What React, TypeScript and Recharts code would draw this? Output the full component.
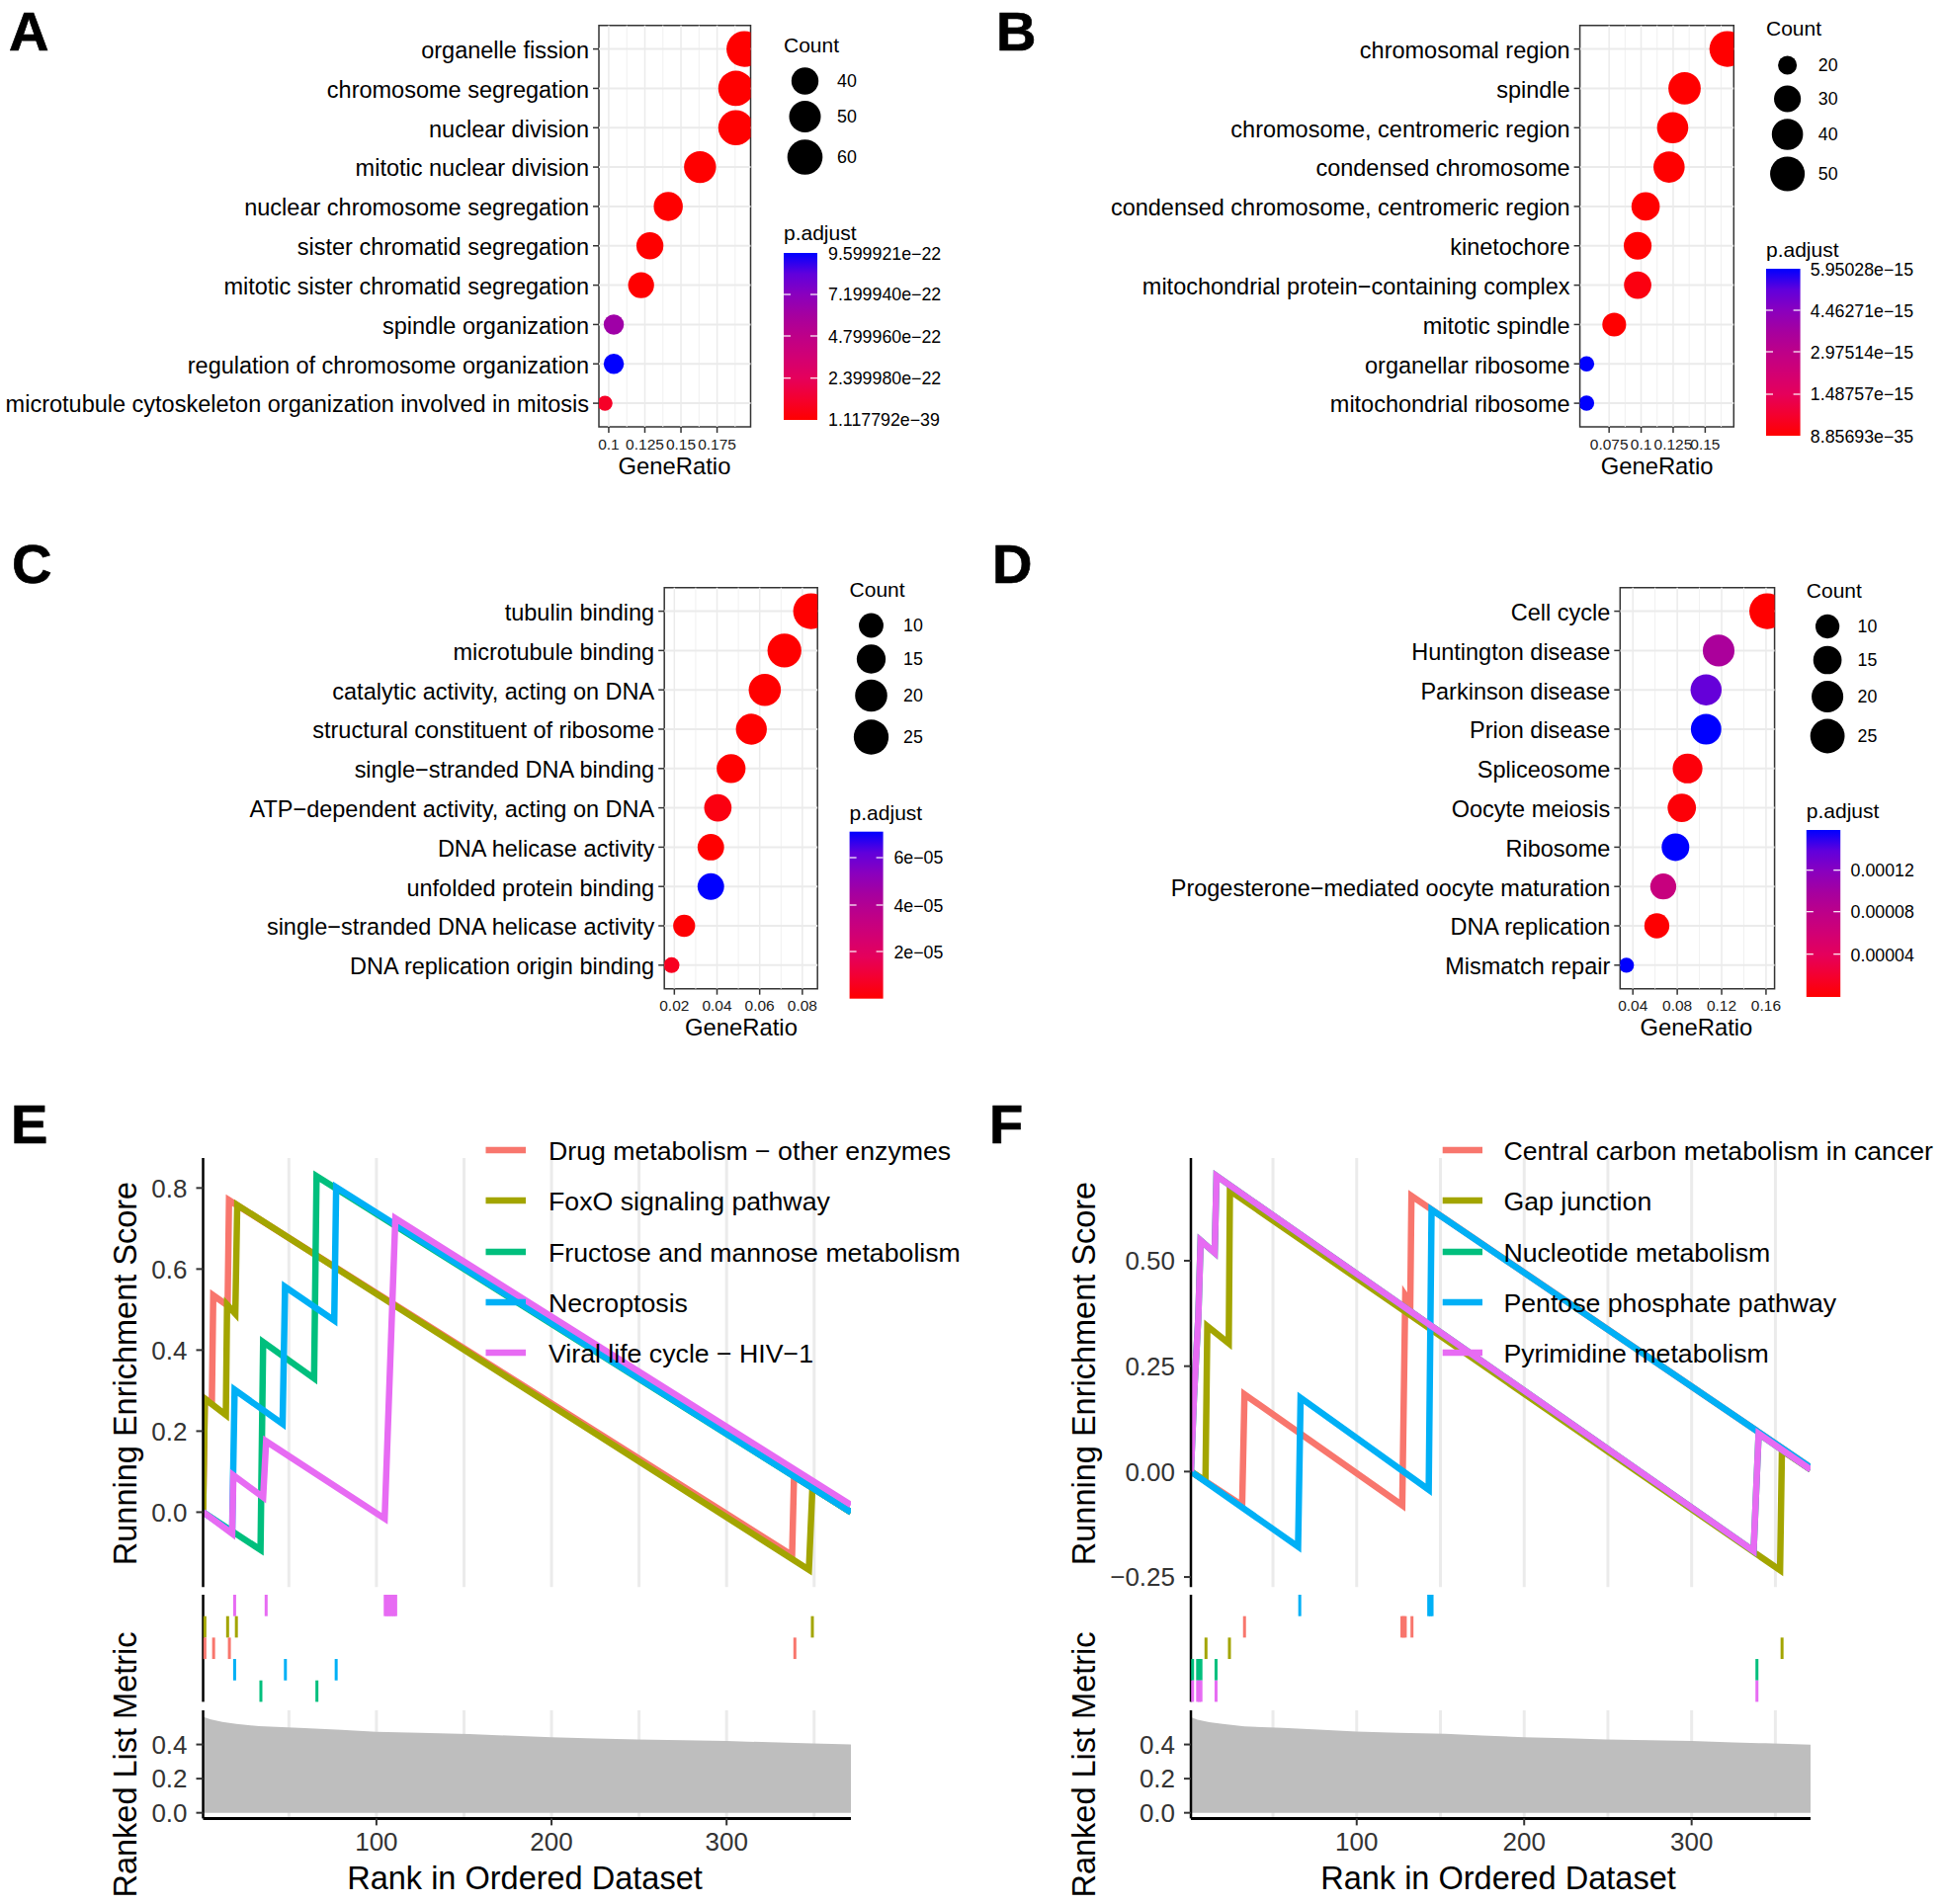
// Six panel enrichment figure: four dot plots (A-D) and two GSEA plots (E, F)
import React from 'react';
import {
  ScatterChart, Scatter, LineChart, Line, AreaChart, Area, CartesianGrid,
  XAxis, YAxis, ReferenceLine, ReferenceArea,
} from 'recharts';

const FONT = "'Liberation Sans', Arial, sans-serif";

// ---- panel A
const termsA = ['organelle fission', 'chromosome segregation', 'nuclear division', 'mitotic nuclear division', 'nuclear chromosome segregation', 'sister chromatid segregation', 'mitotic sister chromatid segregation', 'spindle organization', 'regulation of chromosome organization', 'microtubule cytoskeleton organization involved in mitosis'];
const ratioA = [0.1939, 0.188, 0.188, 0.1632, 0.1412, 0.1285, 0.1224, 0.1035, 0.1035, 0.0974];
const countA = [62, 60, 60, 51, 44, 40, 38, 31, 31, 29];
const padjA = [0, 0, 0, 0, 0, 0, 0, 6.3e-22, 9.6e-22, 1.0e-22];
const ticksA = [0.1, 0.125, 0.15, 0.175];
const minorA = [0.1125, 0.1375, 0.1625, 0.1875];
const countKeysA = [40, 50, 60];
const barLabelsA = ['9.599921e\u221222', '7.199940e\u221222', '4.799960e\u221222', '2.399980e\u221222', '1.117792e\u221239'];

// ---- panel B
const termsB = ['chromosomal region', 'spindle', 'chromosome, centromeric region', 'condensed chromosome', 'condensed chromosome, centromeric region', 'kinetochore', 'mitochondrial protein\u2212containing complex', 'mitotic spindle', 'organellar ribosome', 'mitochondrial ribosome'];
const ratioB = [0.1673, 0.1339, 0.1246, 0.1218, 0.1035, 0.0973, 0.0973, 0.079, 0.0574, 0.0574];
const countB = [54, 43, 40, 40, 33, 32, 31, 25, 19, 19];
const padjB = [0, 0, 0, 0, 0, 0, 0.25e-15, 0, 5.95e-15, 5.95e-15];
const ticksB = [0.075, 0.1, 0.125, 0.15];
const minorB = [0.0875, 0.1125, 0.1375, 0.1625];
const countKeysB = [20, 30, 40, 50];
const barLabelsB = ['5.95028e\u221215', '4.46271e\u221215', '2.97514e\u221215', '1.48757e\u221215', '8.85693e\u221235'];

// ---- panel C
const termsC = ['tubulin binding', 'microtubule binding', 'catalytic activity, acting on DNA', 'structural constituent of ribosome', 'single\u2212stranded DNA binding', 'ATP\u2212dependent activity, acting on DNA', 'DNA helicase activity', 'unfolded protein binding', 'single\u2212stranded DNA helicase activity', 'DNA replication origin binding'];
const ratioC = [0.0841, 0.0716, 0.0624, 0.0561, 0.0466, 0.0404, 0.0371, 0.0371, 0.0246, 0.0187];
const countC = [27, 23, 20, 18, 15, 13, 12, 12, 8, 6];
const padjC = [0, 0, 0, 0, 0, 0.3e-5, 0, 7.1e-5, 0.05e-5, 0.6e-5];
const ticksC = [0.02, 0.04, 0.06, 0.08];
const minorC = [0.03, 0.05, 0.07];
const countKeysC = [10, 15, 20, 25];
const barLabelsC = ['6e\u221205', '4e\u221205', '2e\u221205'];

// ---- panel D
const termsD = ['Cell cycle', 'Huntington disease', 'Parkinson disease', 'Prion disease', 'Spliceosome', 'Oocyte meiosis', 'Ribosome', 'Progesterone\u2212mediated oocyte maturation', 'DNA replication', 'Mismatch repair'];
const ratioD = [0.1611, 0.1173, 0.106, 0.106, 0.0893, 0.0841, 0.0784, 0.0674, 0.0616, 0.0342];
const countD = [28, 20, 19, 18, 17, 15, 14, 12, 11, 6];
const padjD = [0, 0.000095, 0.000136, 0.000158, 0.000004, 0.000003, 0.000158, 0.00007, 0.000001, 0.000158];
const ticksD = [0.04, 0.08, 0.12, 0.16];
const minorD = [0.06, 0.1, 0.14];
const countKeysD = [10, 15, 20, 25];
const barLabelsD = ['0.00012', '0.00008', '0.00004'];

// ---- panel E running scores, [rank, score]
const drugE = [[1, 0], [2, 0.28], [6, 0.268], [6.8, 0.535], [15, 0.51], [15.8, 0.77], [337.4, -0.106], [338.5, 0.0884], [371, 0]];
const foxoE = [[1, 0], [2, 0.28], [14, 0.24], [14.7, 0.512], [19.4, 0.49], [20.5, 0.758], [347, -0.142], [349, 0.06], [371, 0]];
const fructoseE = [[1, 0], [33.8, -0.093], [35.3, 0.42], [64.4, 0.33], [65.8, 0.829], [371, 0]];
const necroE = [[1, 0], [17.6, -0.05], [19, 0.302], [46.4, 0.218], [47.8, 0.556], [75.9, 0.473], [77, 0.802], [371, 0]];
const viralE = [[1, 0], [17.6, -0.053], [18.3, 0.091], [35.3, 0.037], [37, 0.175], [104.7, -0.016], [110.8, 0.725], [371, 0.018]];

const rugViralE = [19, 37, 105, 106, 107, 108, 109, 110, 111];
const rugFoxoE = [2, 15, 20, 349];
const rugDrugE = [2, 7, 16, 339];
const rugNecroE = [19, 48, 77];
const rugFructoseE = [34, 66];

// ---- panel F running scores
const centralF = [[1, 0], [31.6, -0.08], [33, 0.183], [127.2, -0.08], [129, 0.418], [132, 0.4], [132.7, 0.654], [371, 0.01]];
const gapF = [[1, 0], [9.7, -0.022], [10.8, 0.345], [23.6, 0.304], [24.3, 0.666], [352.8, -0.234], [353.9, 0.05], [371, 0.005]];
const nucleotideF = [[1, 0], [2.8, 0.177], [5.4, 0.365], [6.8, 0.548], [15.2, 0.519], [16.3, 0.701], [337, -0.188], [340, 0.09], [371, 0.005]];
const pentoseF = [[1, 0], [65, -0.178], [66.5, 0.175], [143, -0.043], [144.7, 0.621], [371, 0.01]];
const pyrimidineF = [[1, 0], [2.8, 0.177], [5.4, 0.365], [6.8, 0.548], [15.2, 0.519], [16.3, 0.701], [337, -0.188], [340, 0.09], [371, 0.005]];

const rugPentoseF = [66, 143, 144, 145];
const rugCentralF = [33, 127, 128, 129, 133];
const rugGapF = [10, 24, 354];
const rugNucleotideF = [2, 5, 6, 7, 16, 339];
const rugPyrimidineF = [2, 5, 6, 7, 16, 339];

// ranked list metric, shared look in both panels
const metricRanks = [1, 5, 12, 20, 33, 56, 80, 100, 125, 153, 175, 200, 225, 249, 275, 300, 325, 344, 371];
const metricE = [0.563, 0.548, 0.532, 0.52, 0.507, 0.497, 0.485, 0.474, 0.468, 0.461, 0.452, 0.442, 0.435, 0.43, 0.425, 0.42, 0.413, 0.407, 0.4];
const metricF = [0.56, 0.545, 0.53, 0.52, 0.506, 0.497, 0.485, 0.475, 0.468, 0.462, 0.453, 0.443, 0.436, 0.43, 0.425, 0.42, 0.412, 0.407, 0.399];

const rankTicks = [100, 200, 300];
const rankGrid = [50, 100, 150, 200, 250, 300, 350];

const RED_BLUE = ['#FF0000', '#F4002F', '#E5005B', '#D20073', '#BE0088', '#A6009F', '#8A00BE', '#6000DC', '#0000FF'];

function rampColor(t: number) {
  const p = Math.min(Math.max(t, 0), 1) * (RED_BLUE.length - 1);
  const i = Math.min(Math.floor(p), RED_BLUE.length - 2);
  const f = p - i;
  const hex = (s: string, k: number) => parseInt(s.slice(1 + k * 2, 3 + k * 2), 16);
  const mix = [0, 1, 2].map((k) => Math.round(hex(RED_BLUE[i], k) * (1 - f) + hex(RED_BLUE[i + 1], k) * f));
  return `rgb(${mix.join(',')})`;
}

// ggplot style size scale: diameter grows with sqrt of rescaled count
function diameter(count: number, l: any) {
  const u = (count - l.cMin) / (l.cMax - l.cMin);
  return l.dMin + (l.dMax - l.dMin) * Math.sqrt(Math.max(u, 0));
}

const dotPanels = [
  {
    id: 'A', terms: termsA, ratio: ratioA, count: countA, padj: padjA, ticks: ticksA, minor: minorA,
    keys: countKeysA, barLabels: barLabelsA, padMax: 9.6e-22,
    left: 606, right: 759.5, top: 25.7, bottom: 432, xMin: 0.0932, xMax: 0.1982,
    cMin: 29, cMax: 62, dMin: 15.3, dMax: 36.3,
    titleX: 793, countY: 45, keyX: 814.5, keyY: [82, 118, 159], keyLabelX: 847,
    padY: 235, barTop: 256, barBottom: 425, barW: 34, barLabelX: 838, barLabelY: [257, 298, 341, 383, 425], barTickY: [298, 340, 382.7],
    ratioX: 682.5, ratioY: 471,
  },
  {
    id: 'B', terms: termsB, ratio: ratioB, count: countB, padj: padjB, ticks: ticksB, minor: minorB,
    keys: countKeysB, barLabels: barLabelsB, padMax: 5.95e-15,
    left: 1598.6, right: 1754.3, top: 25.7, bottom: 432, xMin: 0.0522, xMax: 0.1723,
    cMin: 19, cMax: 54, dMin: 15.5, dMax: 36.3,
    titleX: 1787, countY: 28, keyX: 1808.6, keyY: [66, 100, 136, 176], keyLabelX: 1839.8,
    padY: 252, barTop: 272, barBottom: 441, barW: 34.6, barLabelX: 1831.8, barLabelY: [273, 315, 357, 399, 442], barTickY: [314, 356, 399],
    ratioX: 1676.6, ratioY: 471,
  },
  {
    id: 'C', terms: termsC, ratio: ratioC, count: countC, padj: padjC, ticks: ticksC, minor: minorC,
    keys: countKeysC, barLabels: barLabelsC, padMax: 7.1e-5,
    left: 672.2, right: 827.2, top: 594.7, bottom: 1000.7, xMin: 0.0153, xMax: 0.0871,
    cMin: 6, cMax: 27, dMin: 16, dMax: 36.3,
    titleX: 859.6, countY: 596, keyX: 881.5, keyY: [633, 667, 704, 746], keyLabelX: 914,
    padY: 822, barTop: 841.7, barBottom: 1010.7, barW: 34, barLabelX: 904.4, barLabelY: [868, 917, 964], barTickY: [868, 916, 963],
    ratioX: 750, ratioY: 1039,
  },
  {
    id: 'D', terms: termsD, ratio: ratioD, count: countD, padj: padjD, ticks: ticksD, minor: minorD,
    keys: countKeysD, barLabels: barLabelsD, padMax: 0.000158,
    left: 1639.3, right: 1795.6, top: 594.7, bottom: 1000.7, xMin: 0.0285, xMax: 0.1677,
    cMin: 6, cMax: 28, dMin: 15.3, dMax: 36.3,
    titleX: 1827.8, countY: 597, keyX: 1849.1, keyY: [634, 668, 705, 745], keyLabelX: 1879.6,
    padY: 820, barTop: 840, barBottom: 1009, barW: 34.4, barLabelX: 1872.6, barLabelY: [881, 923, 967], barTickY: [880.7, 922.7, 965.7],
    ratioX: 1716.4, ratioY: 1039,
  },
];

const gseaPanels = [
  {
    id: 'E', names: ['Drug metabolism \u2212 other enzymes', 'FoxO signaling pathway', 'Fructose and mannose metabolism', 'Necroptosis', 'Viral life cycle \u2212 HIV\u22121'],
    curves: [drugE, foxoE, fructoseE, necroE, viralE],
    rugs: [rugViralE, rugFoxoE, rugDrugE, rugNecroE, rugFructoseE], rugColors: [4, 1, 0, 3, 2],
    metric: metricE, yMin: -0.185, yMax: 0.874, yTicks: [0, 0.2, 0.4, 0.6, 0.8], yFmt: (v: number) => v.toFixed(1),
    left: 205.5, right: 861, keyX1: 491.5, keyX2: 532, keyText: 555,
    titleX: 126.5, rankX: 531,
  },
  {
    id: 'F', names: ['Central carbon metabolism in cancer', 'Gap junction', 'Nucleotide metabolism', 'Pentose phosphate pathway', 'Pyrimidine metabolism'],
    curves: [centralF, gapF, nucleotideF, pentoseF, pyrimidineF],
    rugs: [rugPentoseF, rugCentralF, rugGapF, rugNucleotideF, rugPyrimidineF], rugColors: [3, 0, 1, 2, 4],
    metric: metricF, yMin: -0.274, yMax: 0.7436, yTicks: [-0.25, 0, 0.25, 0.5], yFmt: (v: number) => v.toFixed(2).replace('-', '\u2212'),
    left: 1205, right: 1832, keyX1: 1459.7, keyX2: 1500, keyText: 1521.4,
    titleX: 1096.5, rankX: 1516,
  },
];

const SERIES_COLORS = ['#F8766D', '#A3A500', '#00BF7D', '#00B0F6', '#E76BF3'];
const LEGEND_Y = [1164, 1215, 1267, 1318, 1369];
const LETTERS = [['A', 9, 51], ['B', 1008, 51], ['C', 12, 590], ['D', 1004, 590], ['E', 11, 1157], ['F', 1001, 1157]];

function toPoints(pairs: number[][]) {
  return pairs.map(([x, y]) => ({ x, y }));
}

function DotChart({ p }: { p: any }) {
  const n = p.terms.length;
  const data = p.terms.map((term: string, i: number) => ({
    term, x: p.ratio[i], y: n - i, count: p.count[i], color: rampColor(p.padj[i] / p.padMax),
  }));
  const boxW = p.right + 12;
  const boxH = p.bottom + 45;
  const offsetX = p.id === 'A' || p.id === 'C' ? 0 : 1000;
  const offsetY = p.id === 'A' || p.id === 'B' ? 0 : 560;
  const yDomain = [0.4, n + 0.6];
  return (
    <div style={{ position: 'absolute', left: offsetX, top: offsetY }}>
      <ScatterChart
        width={boxW - offsetX}
        height={boxH - offsetY}
        margin={{ top: p.top - offsetY, right: boxW - p.right, bottom: 0, left: 0 }}
      >
        <XAxis
          type="number" dataKey="x" domain={[p.xMin, p.xMax]} ticks={p.ticks} interval={0} allowDataOverflow
          height={boxH - p.bottom} tickSize={6} tickMargin={5.5} axisLine={false}
          tick={{ fontSize: 15.5, fill: '#1a1a1a', fontFamily: FONT }} tickLine={{ stroke: '#333', strokeWidth: 1.5 }}
          tickFormatter={(v: number) => String(v)}
        />
        <YAxis
          type="number" dataKey="y" domain={yDomain} ticks={data.map((d: any) => d.y)} interval={0}
          width={p.left - offsetX} tickSize={6} tickMargin={4} axisLine={false}
          tick={{ fontSize: 23.5, fill: '#000', fontFamily: FONT, dy: 1 }} tickLine={{ stroke: '#333', strokeWidth: 1.5 }}
          tickFormatter={(v: number) => p.terms[n - v]}
        />
        {p.minor.map((v: number) => (
          <ReferenceLine key={`m${v}`} x={v} stroke="#F0F0F0" strokeWidth={1} />
        ))}
        {p.ticks.map((v: number) => (
          <ReferenceLine key={`t${v}`} x={v} stroke="#EBEBEB" strokeWidth={1.5} />
        ))}
        {data.map((d: any) => (
          <ReferenceLine key={d.term} y={d.y} stroke="#EBEBEB" strokeWidth={2} />
        ))}
        <Scatter
          data={data}
          isAnimationActive={false}
          shape={(s: any) => <circle cx={s.cx} cy={s.cy} r={diameter(s.payload.count, p) / 2} fill={s.payload.color} />}
        />
        <ReferenceArea x1={p.xMin} x2={p.xMax} y1={yDomain[0]} y2={yDomain[1]} fill="none" stroke="#333" strokeWidth={1.5} fillOpacity={0} />
      </ScatterChart>
    </div>
  );
}

function DotLegend({ p }: { p: any }) {
  const gid = `bar${p.id}`;
  const rampStops = RED_BLUE.map((_, i) => i / (RED_BLUE.length - 1));
  return (
    <g fontFamily={FONT}>
      <text x={p.titleX} y={p.countY} fontSize={21} dominantBaseline="central">Count</text>
      {p.keys.map((k: number, i: number) => (
        <g key={k}>
          <circle cx={p.keyX} cy={p.keyY[i]} r={diameter(k, p) / 2} fill="#000" />
          <text x={p.keyLabelX} y={p.keyY[i]} fontSize={17.8} dominantBaseline="central">{k}</text>
        </g>
      ))}
      <text x={p.titleX} y={p.padY} fontSize={21} dominantBaseline="central">p.adjust</text>
      <defs>
        <linearGradient id={gid} x1="0" y1="1" x2="0" y2="0">
          {rampStops.map((s) => <stop key={s} offset={s} stopColor={rampColor(s)} />)}
        </linearGradient>
      </defs>
      <rect x={p.titleX} y={p.barTop} width={p.barW} height={p.barBottom - p.barTop} fill={`url(#${gid})`} />
      {p.barTickY.map((y: number) => (
        <g key={y} stroke="#fff" strokeWidth={1.2}>
          <line x1={p.titleX} x2={p.titleX + 7} y1={y} y2={y} />
          <line x1={p.titleX + p.barW - 7} x2={p.titleX + p.barW} y1={y} y2={y} />
        </g>
      ))}
      {p.barLabels.map((label: string, i: number) => (
        <text key={label} x={p.barLabelX} y={p.barLabelY[i]} fontSize={17.8} dominantBaseline="central">{label}</text>
      ))}
      <text x={p.ratioX} y={p.ratioY} fontSize={23.8} textAnchor="middle" dominantBaseline="central">GeneRatio</text>
    </g>
  );
}

const SCORE_TOP = 1171.7;
const SCORE_BOTTOM = 1606;
const RUG_TOP = 1614.3;
const RUG_BOTTOM = 1722.7;
const METRIC_TOP = 1731.3;
const METRIC_BOTTOM = 1840.7;

function GseaCharts({ p }: { p: any }) {
  const x0 = p.id === 'E' ? 100 : 1090;
  const w = p.right - x0 + 2;
  const yWidth = p.left - x0;
  const rankDomain = [1, 371];
  const tickStyle = { fontSize: 26, fill: '#333', fontFamily: FONT };
  const rowH = (RUG_BOTTOM - RUG_TOP) / p.rugs.length;
  const metricData = metricRanks.map((x, i) => ({ x, y: p.metric[i] }));
  return (
    <>
      <div style={{ position: 'absolute', left: x0, top: SCORE_TOP - 4 }}>
        <LineChart width={w} height={SCORE_BOTTOM - SCORE_TOP + 8} margin={{ top: 4, right: 2, bottom: 4, left: 0 }}>
          <CartesianGrid horizontal={false} verticalValues={rankGrid} stroke="#EBEBEB" strokeWidth={3} />
          <XAxis type="number" dataKey="x" domain={rankDomain} hide allowDataOverflow />
          <YAxis
            type="number" domain={[p.yMin, p.yMax]} ticks={p.yTicks} interval={0} width={yWidth} allowDataOverflow
            tickSize={7} tickMargin={9} tick={tickStyle} tickFormatter={p.yFmt}
            axisLine={{ stroke: '#000', strokeWidth: 2.5 }} tickLine={{ stroke: '#333', strokeWidth: 2 }}
          />
          {p.curves.map((c: number[][], i: number) => (
            <Line
              key={p.names[i]} data={toPoints(c)} dataKey="y" type="linear" stroke={SERIES_COLORS[i]}
              strokeWidth={6.5} dot={false} isAnimationActive={false}
            />
          ))}
        </LineChart>
      </div>
      <div style={{ position: 'absolute', left: x0, top: RUG_TOP }}>
        <ScatterChart width={w} height={RUG_BOTTOM - RUG_TOP} margin={{ top: 0, right: 2, bottom: 0, left: 0 }}>
          <XAxis type="number" dataKey="x" domain={rankDomain} hide />
          <YAxis
            type="number" dataKey="y" domain={[0, p.rugs.length]} width={yWidth} tick={false} tickLine={false}
            axisLine={{ stroke: '#000', strokeWidth: 2.5 }}
          />
          {p.rugs.map((ranks: number[], i: number) => (
            <Scatter
              key={i}
              data={ranks.map((x) => ({ x, y: p.rugs.length - i - 0.5 }))}
              isAnimationActive={false}
              shape={(s: any) => (
                <rect x={s.cx - 1.5} y={s.cy - rowH / 2} width={3} height={rowH} fill={SERIES_COLORS[p.rugColors[i]]} />
              )}
            />
          ))}
        </ScatterChart>
      </div>
      <div style={{ position: 'absolute', left: x0, top: METRIC_TOP }}>
        <AreaChart
          width={w} height={METRIC_BOTTOM - METRIC_TOP + 50} data={metricData}
          margin={{ top: 0, right: 2, bottom: 0, left: 0 }}
        >
          <CartesianGrid horizontal={false} verticalValues={rankGrid} stroke="#EBEBEB" strokeWidth={3} />
          <XAxis
            type="number" dataKey="x" domain={rankDomain} ticks={rankTicks} interval={0} height={50} allowDataOverflow
            tickSize={7} tickMargin={7} tick={tickStyle}
            axisLine={{ stroke: '#000', strokeWidth: 3 }} tickLine={{ stroke: '#333', strokeWidth: 2 }}
          />
          <YAxis
            type="number" domain={[-0.033, 0.6]} ticks={[0, 0.2, 0.4]} interval={0} width={yWidth} allowDataOverflow
            tickSize={7} tickMargin={9} tick={tickStyle} tickFormatter={(v: number) => v.toFixed(1)}
            axisLine={{ stroke: '#000', strokeWidth: 2.5 }} tickLine={{ stroke: '#333', strokeWidth: 2 }}
          />
          <Area dataKey="y" type="linear" baseValue={0} fill="#BEBEBE" fillOpacity={1} stroke="none" isAnimationActive={false} />
        </AreaChart>
      </div>
    </>
  );
}

function GseaLegend({ p }: { p: any }) {
  return (
    <g fontFamily={FONT}>
      {p.names.map((name: string, i: number) => (
        <g key={name}>
          <line x1={p.keyX1} x2={p.keyX2} y1={LEGEND_Y[i]} y2={LEGEND_Y[i]} stroke={SERIES_COLORS[i]} strokeWidth={6.5} />
          <text x={p.keyText} y={LEGEND_Y[i] + 1} fontSize={26.7} dominantBaseline="central">{name}</text>
        </g>
      ))}
      <text
        x={p.titleX} y={1390} fontSize={32.5} textAnchor="middle" dominantBaseline="central"
        transform={`rotate(-90 ${p.titleX} 1390)`}
      >Running Enrichment Score</text>
      <text
        x={p.titleX} y={1786} fontSize={32.5} textAnchor="middle" dominantBaseline="central"
        transform={`rotate(-90 ${p.titleX} 1786)`}
      >Ranked List Metric</text>
      <text x={p.rankX} y={1901} fontSize={32.5} textAnchor="middle" dominantBaseline="central">Rank in Ordered Dataset</text>
    </g>
  );
}

export default function App() {
  return (
    <div style={{ position: 'absolute', left: 0, top: 0, width: 1965, height: 1927, background: '#fff', overflow: 'hidden' }}>
      {dotPanels.map((p) => <DotChart key={p.id} p={p} />)}
      {gseaPanels.map((p) => <GseaCharts key={p.id} p={p} />)}
      <svg width={1965} height={1927} style={{ position: 'absolute', left: 0, top: 0, pointerEvents: 'none' }}>
        {dotPanels.map((p) => <DotLegend key={p.id} p={p} />)}
        {gseaPanels.map((p) => <GseaLegend key={p.id} p={p} />)}
        {LETTERS.map(([t, x, y]) => (
          <text key={t as string} x={x as number} y={y as number} fontFamily={FONT} fontWeight="bold" fontSize={56} stroke="#000" strokeWidth={0.7}>{t}</text>
        ))}
      </svg>
    </div>
  );
}
